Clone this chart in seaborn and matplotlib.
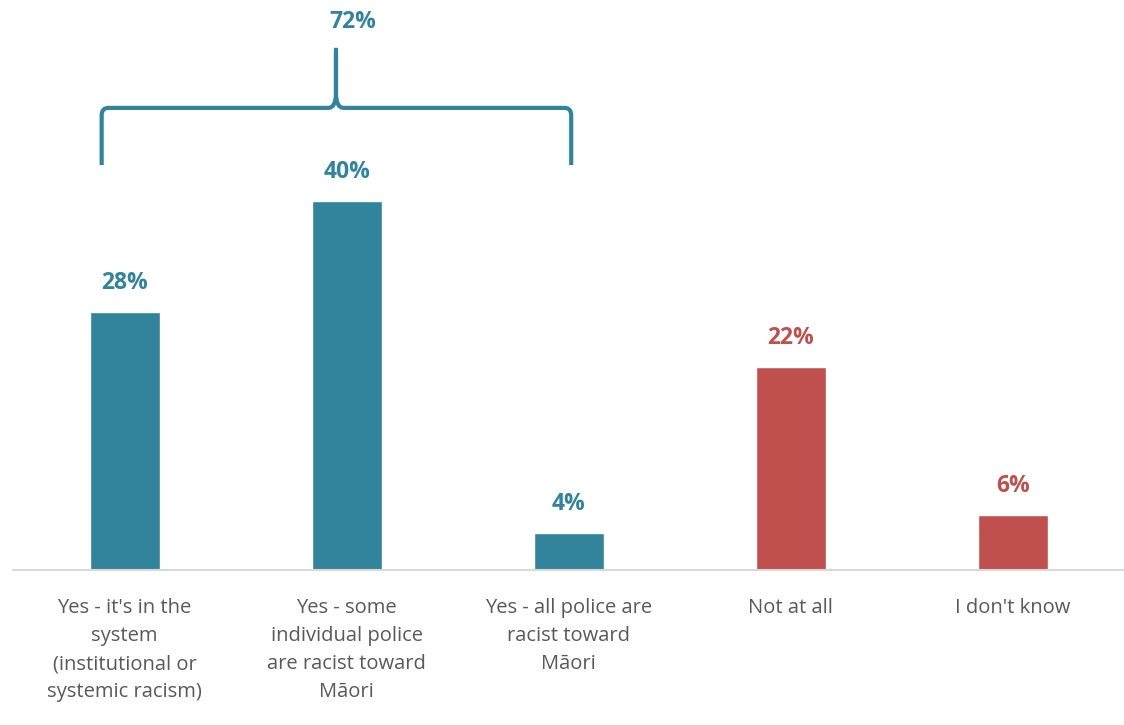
import numpy as np
import pandas as pd
import seaborn as sns
import matplotlib.pyplot as plt
from matplotlib.path import Path
from matplotlib.patches import PathPatch

categories = [
    "Yes - it's in the\nsystem\n(institutional or\nsystemic racism)",
    "Yes - some\nindividual police\nare racist toward\nMāori",
    "Yes - all police are\nracist toward\nMāori",
    "Not at all",
    "I don't know",
]
values = [28, 40, 4, 22, 6]
groups = ["yes", "yes", "yes", "no", "no"]
bracket_label = "72%"

TEAL = "#31849B"
RED = "#C0504D"
colors = {"yes": TEAL, "no": RED}

df = pd.DataFrame({"category": categories, "value": values, "group": groups})

sns.set_style("white")
plt.rcParams["font.family"] = ["Open Sans", "DejaVu Sans"]

fig = plt.figure(figsize=(11.24, 7.25), dpi=100)
ax = fig.add_axes([0.012, 0.214, 0.988, 0.786])

sns.barplot(data=df, x="category", y="value", hue="group", palette=colors,
            width=0.315, dodge=False, legend=False, ax=ax, saturation=1)

ax.set_ylim(0, 61.8)
ax.set_xlim(-0.5, 4.5)

# value labels
for cont in ax.containers:
    for bar in cont:
        h = bar.get_height()
        if np.isnan(h):
            continue
        c = TEAL if bar.get_facecolor()[0] < 0.5 else RED
        ax.annotate(f"{h:.0f}%", (bar.get_x() + bar.get_width() / 2, h),
                    xytext=(0, 12), textcoords="offset points",
                    ha="center", va="bottom", fontsize=16.5, fontweight="bold",
                    color=c)

# curly bracket over the "yes" group
xl, xr, xm = -0.103, 2.011, 0.952
yb, yh, yt = 43.9, 50.1, 56.4
r = 0.03
verts = [
    (xl, yb), (xl, yh - 0.8), (xl, yh), (xl + r, yh),
    (xm - 0.035, yh), (xm, yh), (xm, yh + 1.6), (xm, yt),
    (xm, yh + 1.6), (xm, yh), (xm + 0.035, yh),
    (xr - r, yh), (xr, yh), (xr, yh - 0.8), (xr, yb),
]
codes = [
    Path.MOVETO, Path.LINETO, Path.CURVE3, Path.CURVE3,
    Path.LINETO, Path.CURVE3, Path.CURVE3, Path.LINETO,
    Path.LINETO, Path.CURVE3, Path.CURVE3,
    Path.LINETO, Path.CURVE3, Path.CURVE3, Path.LINETO,
]
ax.add_patch(PathPatch(Path(verts, codes), fill=False, edgecolor=TEAL,
                       linewidth=3, capstyle="butt", joinstyle="round"))
ax.text(1.03, 59.4, bracket_label, ha="center", va="center",
        fontsize=16.5, fontweight="bold", color=TEAL)

ax.set_xlabel("")
ax.set_ylabel("")
ax.set_yticks([])
for side in ["top", "left", "right"]:
    ax.spines[side].set_visible(False)
ax.spines["bottom"].set_color("#D9D9D9")
ax.spines["bottom"].set_linewidth(1.5)
ax.tick_params(axis="x", length=0, pad=20)
for lbl in ax.get_xticklabels():
    lbl.set_fontsize(14.5)
    lbl.set_color("#595959")
    lbl.set_linespacing(1.55)
    lbl.set_verticalalignment("top")

fig.savefig("out.png", dpi=100)
